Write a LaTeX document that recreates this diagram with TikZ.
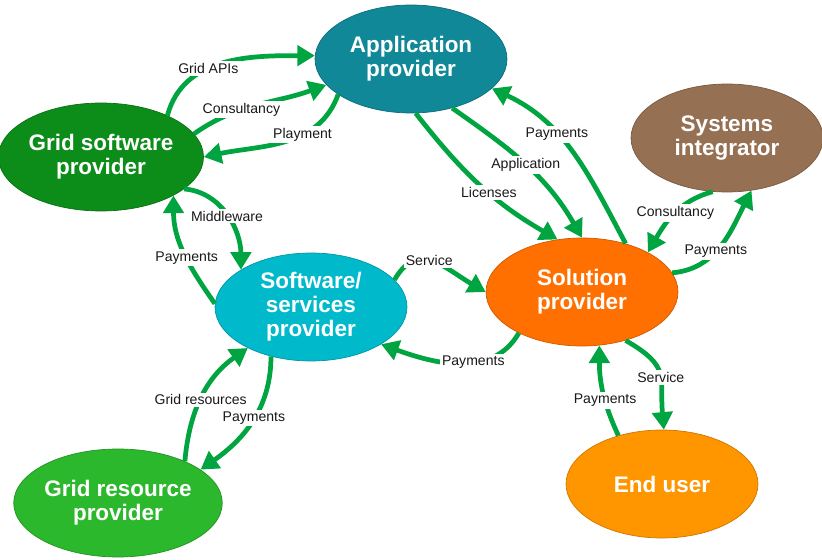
\documentclass[tikz,border=0pt]{standalone}
\usepackage{fontspec}
\setmainfont{Liberation Sans}
\usepackage{tikz}
\usetikzlibrary{shapes.geometric,arrows.meta}

\definecolor{appcol}{RGB}{16,136,152}
\definecolor{gswcol}{RGB}{12,140,24}
\definecolor{sicol}{RGB}{150,112,82}
\definecolor{sspcol}{RGB}{0,186,204}
\definecolor{solcol}{RGB}{255,112,0}
\definecolor{grpcol}{RGB}{44,184,44}
\definecolor{eucol}{RGB}{255,150,0}
\definecolor{flowgreen}{RGB}{0,164,64}

\begin{document}
\begin{tikzpicture}[x=0.02cm, y=-0.02cm,
  rolenode/.style={ellipse, fill=#1, draw=#1!80!black, thin, minimum width=3.84cm, minimum height=2.16cm, inner sep=0pt, align=center, text=white, font=\fontsize{12.8}{13.7}\selectfont\bfseries},
  flow/.style={draw=flowgreen, line width=2.7pt, -{Triangle[width=11.5pt, length=10pt]}},
  lbl/.style={fill=white, inner sep=1.2pt, text=black!90, font=\fontsize{8}{9}\selectfont}]
\useasboundingbox (0, 0) rectangle (822, 560);
% Nodes
\node[rolenode=appcol] (app) at (411, 59) {Application\\provider};
\node[rolenode=gswcol] (gsw) at (101, 157) {Grid software\\provider};
\node[rolenode=sicol] (si) at (727, 138) {Systems\\integrator};
\node[rolenode=sspcol] (ssp) at (311, 307) {Software/\\services\\provider};
\node[rolenode=solcol] (sol) at (582, 292) {Solution\\provider};
\node[rolenode=grpcol] (grp) at (118, 503) {Grid resource\\provider};
\node[rolenode=eucol] (eu) at (662, 484) {End user};
% Flows
\draw[flow] (gsw.32) to[out=75, in=180] node[lbl, pos=0.4] {Grid APIs} (app.178);
\draw[flow] (gsw.14) to[out=35, in=200] node[lbl, pos=0.37] {Consultancy} (app.197);
\draw[flow] (app.206) to[out=250, in=12] node[lbl, pos=0.37] {Playment} (gsw.0);
\draw[flow] (gsw.-21) to[out=-5, in=90] node[lbl, pos=0.5] {Middleware} (ssp.152);
\draw[flow] (ssp.178) to[out=125, in=-90] node[lbl, pos=0.45] {Payments} (gsw.-28);
\draw[flow] (ssp.18) to[out=60, in=150, looseness=1.3] node[lbl, pos=0.45] {Service} (sol.180);
\draw[flow] (sol.213) to[out=240, in=-20] node[lbl, pos=0.4] {Payments} (ssp.-28);
\draw[flow] (app.-85) to[out=-52, in=150] node[lbl, pos=0.57] {Licenses} (sol.115);
\draw[flow] (app.-50) to[out=-35, in=120] node[lbl, pos=0.5] {Application} (sol.90);
\draw[flow] (sol.48) to[out=118, in=-25] node[lbl, pos=0.62] {Payments} (app.-20);
\draw[flow] (si.255) to[out=195, in=60] node[lbl, pos=0.48] {Consultancy} (sol.31);
\draw[flow] (sol.12) to[out=5, in=243] node[lbl, pos=0.43] {Payments} (si.-65);
\draw[flow] (grp.32) to[out=85, in=215] node[lbl, pos=0.47] {Grid resources} (ssp.213);
\draw[flow] (ssp.231) to[out=-90, in=35] node[lbl, pos=0.47] {Payments} (grp.22);
\draw[flow] (eu.132) to[out=115, in=-90] node[lbl, pos=0.4] {Payments} (sol.-72);
\draw[flow] (sol.-48) to[out=-30, in=95, looseness=1.4] node[lbl, pos=0.53] {Service} (eu.88);
\end{tikzpicture}
\end{document}
